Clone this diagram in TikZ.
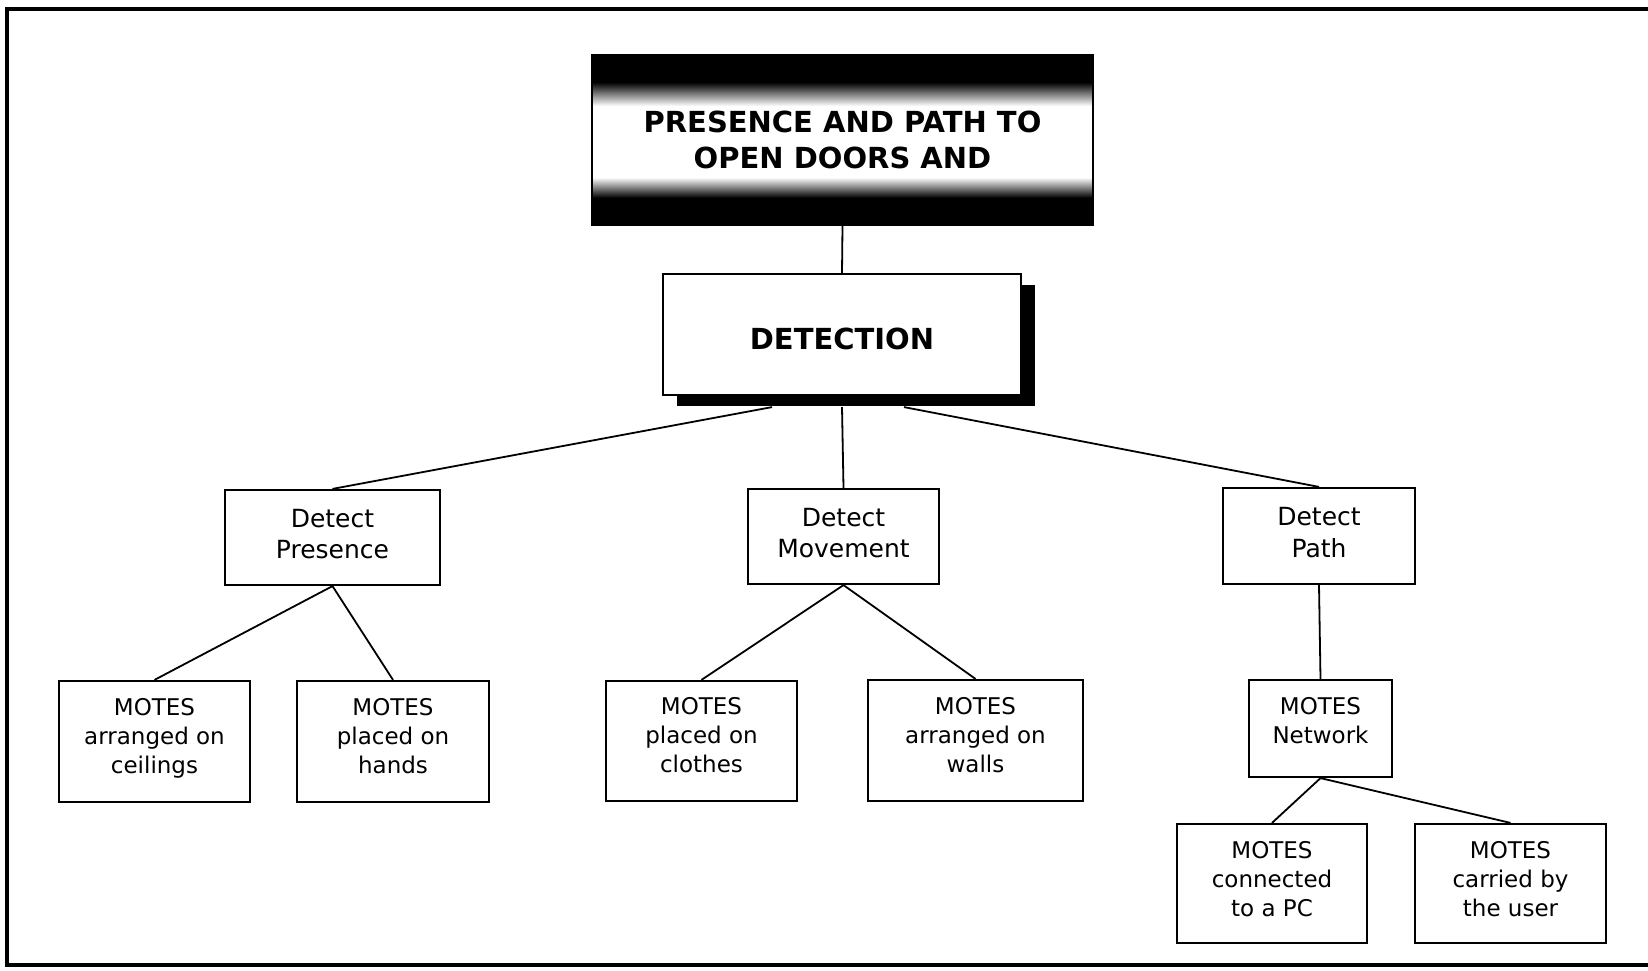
\documentclass[tikz,border=0pt]{standalone}
\usepackage{fontspec}
\setmainfont{DejaVu Sans}
\usetikzlibrary{calc,shadows}
% black bands at top and bottom fading to a white middle
% (a path is mapped onto the inner 25bp--75bp of the shading)
\pgfdeclareverticalshading{bandshade}{100bp}{color(0bp)=(black); color(33bp)=(black); color(39bp)=(white); color(60bp)=(white); color(67bp)=(black); color(100bp)=(black)}
% centred stack of lines with even spacing, optionally raised
\newcommand\boxtext[2][3pt]{\raisebox{#1}[\height][\depth]{\begin{tabular}{@{}c@{}}#2\end{tabular}}}
\tikzset{
  box/.style={draw=black, line width=2.2pt, fill=white, inner sep=0pt,
              font=\fontsize{23}{29}\selectfont},
  midbox/.style={box, font=\fontsize{25}{31.5}\selectfont},
  headfont/.style={font=\bfseries\fontsize{29}{36}\selectfont},
  link/.style={draw=black, line width=1.8pt},
}
\begin{document}
\begin{tikzpicture}[x=1pt,y=-1pt]
\useasboundingbox (0,0) rectangle (1648,971);
\fill[white] (0,0) rectangle (1648,971);
% outer frame
\draw[line width=4.5pt] (1660,9) -- (7,9) -- (7,965) -- (1660,965);

% top heading
\node[draw=black, line width=1.5pt, shading=bandshade, minimum width=501pt, minimum height=170pt,
      inner sep=0pt, align=center, headfont] (title) at (842.5,140)
      {PRESENCE AND PATH TO\\OPEN DOORS AND};

% detection
\node[box, headfont, minimum width=358pt, minimum height=121pt,
      drop shadow={shadow xshift=14pt, shadow yshift=-11pt, fill=black, opacity=1}] (det) at (842,334.5)
      {\raisebox{-4pt}[\height][\depth]{DETECTION}};

% second level
\node[midbox, minimum width=215pt, minimum height=95pt] (pres) at (332.5,537.5) {\boxtext[1pt]{Detect\\Presence}};
\node[midbox, minimum width=191pt, minimum height=95pt] (move) at (843.5,536.5) {\boxtext[1pt]{Detect\\Movement}};
\node[midbox, minimum width=192pt, minimum height=96pt] (path) at (1319,536) {\boxtext[1pt]{Detect\\Path}};

% third level
\node[box, minimum width=191pt, minimum height=121pt] (ceil) at (154.5,741.5) {\boxtext{MOTES\\arranged on\\ceilings}};
\node[box, minimum width=192pt, minimum height=121pt] (hand) at (393,741.5) {\boxtext{MOTES\\placed on\\hands}};
\node[box, minimum width=191pt, minimum height=120pt] (cloth) at (701.5,741) {\boxtext{MOTES\\placed on\\clothes}};
\node[box, minimum width=215pt, minimum height=121pt] (wall) at (975.5,740.5) {\boxtext{MOTES\\arranged on\\walls}};
\node[box, minimum width=143pt, minimum height=97pt] (net) at (1320.5,728.5) {\boxtext[5pt]{MOTES\\Network}};

% fourth level
\node[box, minimum width=190pt, minimum height=119pt] (pc) at (1272,883.5) {\boxtext[2pt]{MOTES\\connected\\to a PC}};
\node[box, minimum width=191pt, minimum height=119pt] (user) at (1510.5,883.5) {\boxtext[2pt]{MOTES\\carried by\\the user}};

% connectors
\draw[link] (title.south) -- (det.north);
\draw[link] ($(det.south)+(-70,11)$) -- (pres.north);
\draw[link] ($(det.south)+(0,11)$) -- (move.north);
\draw[link] ($(det.south)+(62,11)$) -- (path.north);
\draw[link] (pres.south) -- (ceil.north);
\draw[link] (pres.south) -- (hand.north);
\draw[link] (move.south) -- (cloth.north);
\draw[link] (move.south) -- (wall.north);
\draw[link] (path.south) -- (net.north);
\draw[link] (net.south) -- (pc.north);
\draw[link] (net.south) -- (user.north);
\end{tikzpicture}
\end{document}
